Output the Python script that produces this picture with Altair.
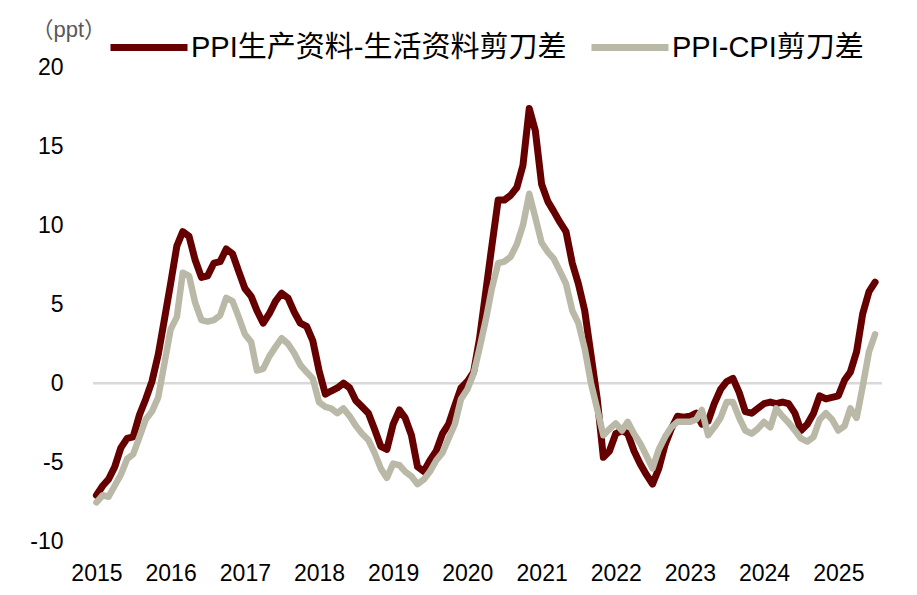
import altair as alt
import pandas as pd

# Monthly data, 2015-01 .. 2025-07
months = pd.date_range("2015-01-01", periods=127, freq="MS")

ppi_prod_cons = [
    -7.1, -6.5, -6.1, -5.3, -4.1, -3.5, -3.4, -2.0, -1.0, 0.1, 1.8, 4.0,      # 2015
    6.3, 8.7, 9.6, 9.3, 7.8, 6.7, 6.8, 7.6, 7.7, 8.5, 8.2, 7.1,               # 2016
    6.0, 5.5, 4.6, 3.8, 4.4, 5.2, 5.7, 5.4, 4.5, 3.8, 3.6, 2.7,               # 2017
    0.8, -0.7, -0.5, -0.3, 0.0, -0.3, -1.1, -1.5, -1.9, -2.9, -4.0, -4.2,     # 2018
    -2.6, -1.7, -2.2, -3.3, -5.3, -5.6, -4.9, -4.3, -3.2, -2.6, -1.4, -0.3,   # 2019
    0.1, 0.7, 2.8, 5.8, 8.7, 11.6, 11.6, 11.9, 12.4, 13.8, 17.4, 16.0,        # 2020
    12.6, 11.5, 10.9, 10.2, 9.6, 7.6, 6.3, 4.6, 1.8, -0.9, -4.7, -4.3,        # 2021
    -3.2, -3.0, -3.2, -4.3, -5.1, -5.8, -6.4, -5.4, -3.9, -2.9, -2.1, -2.15,  # 2022
    -2.1, -1.9, -2.6, -2.4, -1.3, -0.4, 0.1, 0.3, -0.6, -1.8, -1.9, -1.6,     # 2023
    -1.3, -1.2, -1.3, -1.2, -1.3, -1.9, -3.0, -2.6, -1.9, -0.8, -1.0, -0.9,   # 2024
    -0.8, 0.2, 0.7, 2.0, 4.4, 5.8, 6.4,                                       # 2025
]

ppi_cpi = [
    -7.55, -7.1, -7.2, -6.5, -5.8, -4.8, -4.5, -3.4, -2.3, -1.8, -0.9, 1.2,   # 2015
    3.4, 4.2, 7.0, 6.8, 5.1, 4.0, 3.9, 4.0, 4.3, 5.4, 5.2, 4.2,               # 2016
    3.1, 2.6, 0.8, 0.9, 1.7, 2.3, 2.85, 2.5, 1.9, 1.15, 0.7, 0.3,             # 2017
    -1.2, -1.5, -1.6, -1.9, -1.6, -2.1, -2.7, -3.2, -3.6, -4.4, -5.4, -6.0,   # 2018
    -5.1, -5.2, -5.6, -5.9, -6.4, -6.1, -5.6, -4.9, -4.4, -3.5, -2.6, -1.0,   # 2019
    -0.4, 0.6, 2.2, 4.0, 6.0, 7.6, 7.7, 8.0, 8.8, 10.0, 12.0, 10.5,           # 2020
    8.9, 8.3, 7.9, 7.1, 6.3, 4.6, 3.8, 2.2, 0.0, -1.6, -3.3, -2.9,            # 2021
    -2.55, -3.0, -2.45, -3.2, -3.8, -4.6, -5.4, -4.2, -3.4, -2.8, -2.45, -2.45,  # 2022
    -2.45, -2.3, -1.7, -3.3, -2.8, -2.2, -1.2, -1.2, -2.2, -3.0, -3.2, -2.9,  # 2023
    -2.45, -2.8, -1.6, -2.1, -2.5, -3.0, -3.5, -3.7, -3.4, -2.3, -1.9, -2.3,  # 2024
    -3.0, -2.7, -1.6, -2.2, -0.2, 2.0, 3.1,                                   # 2025
]

name_a = "PPI生产资料-生活资料剪刀差"
name_b = "PPI-CPI剪刀差"
series_names = [name_a, name_b]
series_colors = ["#660000", "#BAB9A8"]
y_ticks = [-10, -5, 0, 5, 10, 15, 20]

df_a = pd.DataFrame({"date": months, "value": ppi_prod_cons, "series": name_a})
df_b = pd.DataFrame({"date": months, "value": ppi_cpi, "series": name_b})

latin = "Liberation Sans, Arial, Noto Sans CJK SC, sans-serif"

x_enc = alt.X(
    "date:T",
    scale=alt.Scale(domain=[alt.DateTime(year=2014, month=12, date=15),
                            alt.DateTime(year=2025, month=8, date=4)]),
    axis=alt.Axis(title=None, format="%Y", tickCount={"interval": "year", "step": 1},
                  domain=False, ticks=False, tickSize=0, grid=False,
                  labelFontSize=23, labelFont=latin, labelColor="#000000",
                  labelPadding=39, labelBaseline="alphabetic", labelFlush=False,
                  labelOverlap=False),
)
y_enc = alt.Y(
    "value:Q",
    scale=alt.Scale(domain=[-10, 20], nice=False, zero=False),
    axis=alt.Axis(values=y_ticks, title="（ppt）", titleAngle=0, titleX=-62, titleY=-31,
                  titleAlign="left", titleBaseline="alphabetic", titleFontSize=22,
                  titleFontWeight="normal", titleColor="#595959", titleFont=latin,
                  domain=False, ticks=False, tickSize=0, grid=False,
                  labelFontSize=23, labelFont=latin, labelColor="#000000",
                  labelPadding=30, labelExpr="'' + datum.value"),
)
color_enc = alt.Color(
    "series:N",
    scale=alt.Scale(domain=series_names, range=series_colors),
    legend=alt.Legend(orient="none", legendX=14, legendY=-62, direction="horizontal",
                      title=None, symbolType="stroke", symbolSize=5929,
                      symbolStrokeWidth=7, labelFontSize=29, labelFont=latin,
                      labelColor="#000000", labelOffset=0, columnPadding=10,
                      labelLimit=1000, padding=0),
)

zero = alt.Chart(pd.DataFrame({"y": [0]})).mark_rule(color="#D9D9D9", strokeWidth=2.5).encode(
    y=alt.Y("y:Q", scale=alt.Scale(domain=[-10, 20], nice=False, zero=False))
)

line_a = alt.Chart(df_a).mark_line(strokeWidth=7, strokeCap="round", strokeJoin="round").encode(
    x=x_enc, y=y_enc, color=color_enc
)
line_b = alt.Chart(df_b).mark_line(strokeWidth=6.5, strokeCap="round", strokeJoin="round").encode(
    x=x_enc, y=y_enc, color=color_enc
)

chart = alt.layer(zero, line_a, line_b).properties(
    width=789, height=473.5,
    autosize=alt.AutoSizeParams(type="none"),
    padding={"left": 85, "top": 59.5, "right": 20, "bottom": 44},
).configure_view(stroke=None)

chart.save("out.html", embed_options={"renderer": "svg", "actions": False})
